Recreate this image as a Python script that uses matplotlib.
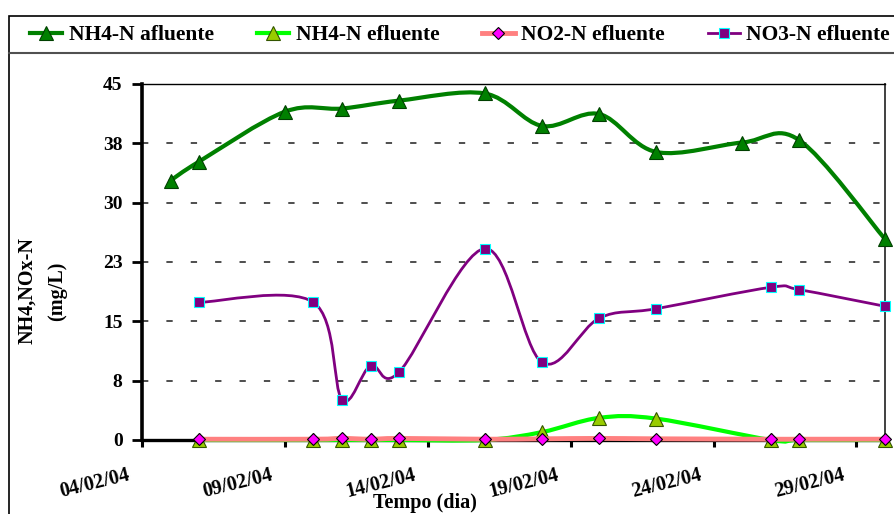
import datetime as dt

import matplotlib
matplotlib.use("Agg")
import matplotlib.pyplot as plt
import matplotlib.dates as mdates
import numpy as np
from matplotlib.lines import Line2D
from matplotlib.patches import PathPatch, Rectangle
from matplotlib.path import Path
from matplotlib.transforms import ScaledTranslation, blended_transform_factory

plt.rcParams['font.family'] = ['Liberation Serif', 'DejaVu Serif']
plt.rcParams['font.weight'] = 'bold'

# sampling dates (influent / effluent)
dias_afl = ["05/02/04", "06/02/04", "09/02/04", "11/02/04", "13/02/04", "16/02/04",
            "18/02/04", "20/02/04", "22/02/04", "25/02/04", "27/02/04", "01/03/04"]
dias_efl = ["06/02/04", "10/02/04", "11/02/04", "12/02/04", "13/02/04", "16/02/04",
            "18/02/04", "20/02/04", "22/02/04", "26/02/04", "27/02/04", "01/03/04"]

nh4_afl = [32.8, 35.2, 41.5, 41.9, 42.9, 43.8, 39.7, 41.2, 36.4, 37.6, 37.9, 25.4]
nh4_efl = [0.0, 0.0, 0.0, 0.0, 0.0, 0.0, 1.0, 2.8, 2.7, 0.0, 0.0, 0.0]
no2_efl = [0.1, 0.1, 0.2, 0.1, 0.2, 0.1, 0.15, 0.2, 0.15, 0.1, 0.1, 0.1]
no3_efl = [17.4, 17.4, 5.1, 9.4, 8.6, 24.2, 9.8, 15.4, 16.6, 19.3, 19.0, 16.9]

y_ticks = [0, 7.5, 15, 22.5, 30, 37.5, 45]
y_labels = ["0", "8", "15", "23", "30", "38", "45"]
x_ticks = ["04/02/04", "09/02/04", "14/02/04", "19/02/04", "24/02/04", "29/02/04"]
x_fim = "01/03/04"


def to_num(datas):
    return mdates.date2num([dt.datetime.strptime(d, "%d/%m/%y") for d in datas])


def smooth_path(x, y):
    # Excel-like smoothed line: cubic Bezier segments with Catmull-Rom handles
    p = np.column_stack([x, y]).astype(float)
    n = len(p)
    verts = [p[0]]
    codes = [Path.MOVETO]
    for i in range(n - 1):
        p0 = p[i - 1] if i > 0 else p[i]
        p1, p2 = p[i], p[i + 1]
        p3 = p[i + 2] if i + 2 < n else p[i + 1]
        c1 = p1 + (p2 - p0) / 6.0
        c2 = p2 - (p3 - p1) / 6.0
        verts += [c1, c2, p2]
        codes += [Path.CURVE4] * 3
    return Path(verts, codes)


series = [
    ("NH4-N afluente", dias_afl, nh4_afl, "#008000", 3.0, "^", 9.5, "#008000", "#004000"),
    ("NH4-N efluente", dias_efl, nh4_efl, "#00FF00", 3.0, "^", 9.5, "#99CC00", "#335500"),
    ("NO2-N efluente", dias_efl, no2_efl, "#FF8080", 3.5, "D", 6.5, "#FF00FF", "#000000"),
    ("NO3-N efluente", dias_efl, no3_efl, "#800080", 2.0, "s", 7, "#800080", "#00FFFF"),
]

W, H = 894, 514
fig = plt.figure(figsize=(W / 100, H / 100), dpi=100)
ax = fig.add_axes([142 / W, 1 - 440 / H, (885 - 142) / W, (440 - 84) / H])

handles = []
for k, (nome, dias, vals, cor, lw, mk, ms, mfc, mec) in enumerate(series):
    xs = to_num(dias)
    z = 3 + k
    ax.add_patch(PathPatch(smooth_path(xs, vals), fill=False, edgecolor=cor, lw=lw,
                           capstyle="round", joinstyle="round", zorder=z, clip_on=False))
    ax.plot(xs, vals, ls="none", marker=mk, ms=ms, mfc=mfc, mec=mec, mew=0.8,
            zorder=z + 0.5, clip_on=False)
    handles.append(Line2D([], [], color=cor, lw=lw, marker=mk, ms=ms, mfc=mfc,
                          mec=mec, mew=0.8, label=nome))

ax.set_xlim(to_num([x_ticks[0]])[0], to_num([x_fim])[0])
ax.set_ylim(0, 45)

ax.set_yticks(y_ticks)
ax.set_yticklabels(y_labels, fontsize=14, fontweight="bold")
ax.set_xticks(to_num(x_ticks))
ax.set_xticklabels([])

# rotated date labels, anchored at their upper right corner below each tick
lbl_tr = blended_transform_factory(ax.transData, ax.transAxes) + \
    ScaledTranslation(-0.15, -0.25, fig.dpi_scale_trans)
for xv, txt in zip(to_num(x_ticks), x_ticks):
    ax.text(xv, 0, txt, transform=lbl_tr, fontsize=14.5, fontweight="bold", rotation=14,
            ha="right", va="top", rotation_mode="anchor", clip_on=False)

ax.tick_params(axis="y", direction="out", length=7, width=2, pad=7)
ax.tick_params(axis="x", direction="out", length=5, width=2.2)

for ty in y_ticks[1:-1]:
    ax.axhline(ty, color="#404040", lw=1.3, dashes=(3.5, 10), zorder=1)

ax.spines["left"].set_linewidth(2.6)
ax.spines["bottom"].set_linewidth(2.4)
ax.spines["top"].set_linewidth(1.0)
ax.spines["right"].set_linewidth(1.4)
ax.spines["right"].set_color("#404040")

fig.text(42 / W, 1 - 291 / H, "NH4,NOx-N\n(mg/L)", rotation=90, ha="center", va="center",
         fontsize=14.5, fontweight="bold", multialignment="center", linespacing=1.7)
fig.text(425 / W, 1 - 503 / H, "Tempo (dia)", ha="center", va="center",
         fontsize=14.5, fontweight="bold")

# chart frame and legend box
fig.add_artist(Rectangle((9 / W, -0.1), 1.2, 1 - 16 / H + 0.1, transform=fig.transFigure,
                         fill=False, ec="black", lw=1.2))
fig.add_artist(Line2D([9 / W, 1.0], [1 - 53 / H] * 2, transform=fig.transFigure,
                      color="#505050", lw=1.5))

fig.legend(handles=handles, loc="center left", bbox_to_anchor=(30 / W, 1 - 35 / H),
           ncol=4, frameon=False, handlelength=1.5, handletextpad=0.3,
           columnspacing=2.0, borderpad=0, borderaxespad=0,
           prop={"weight": "bold", "size": 15.5})

fig.savefig("out.png", dpi=100)
